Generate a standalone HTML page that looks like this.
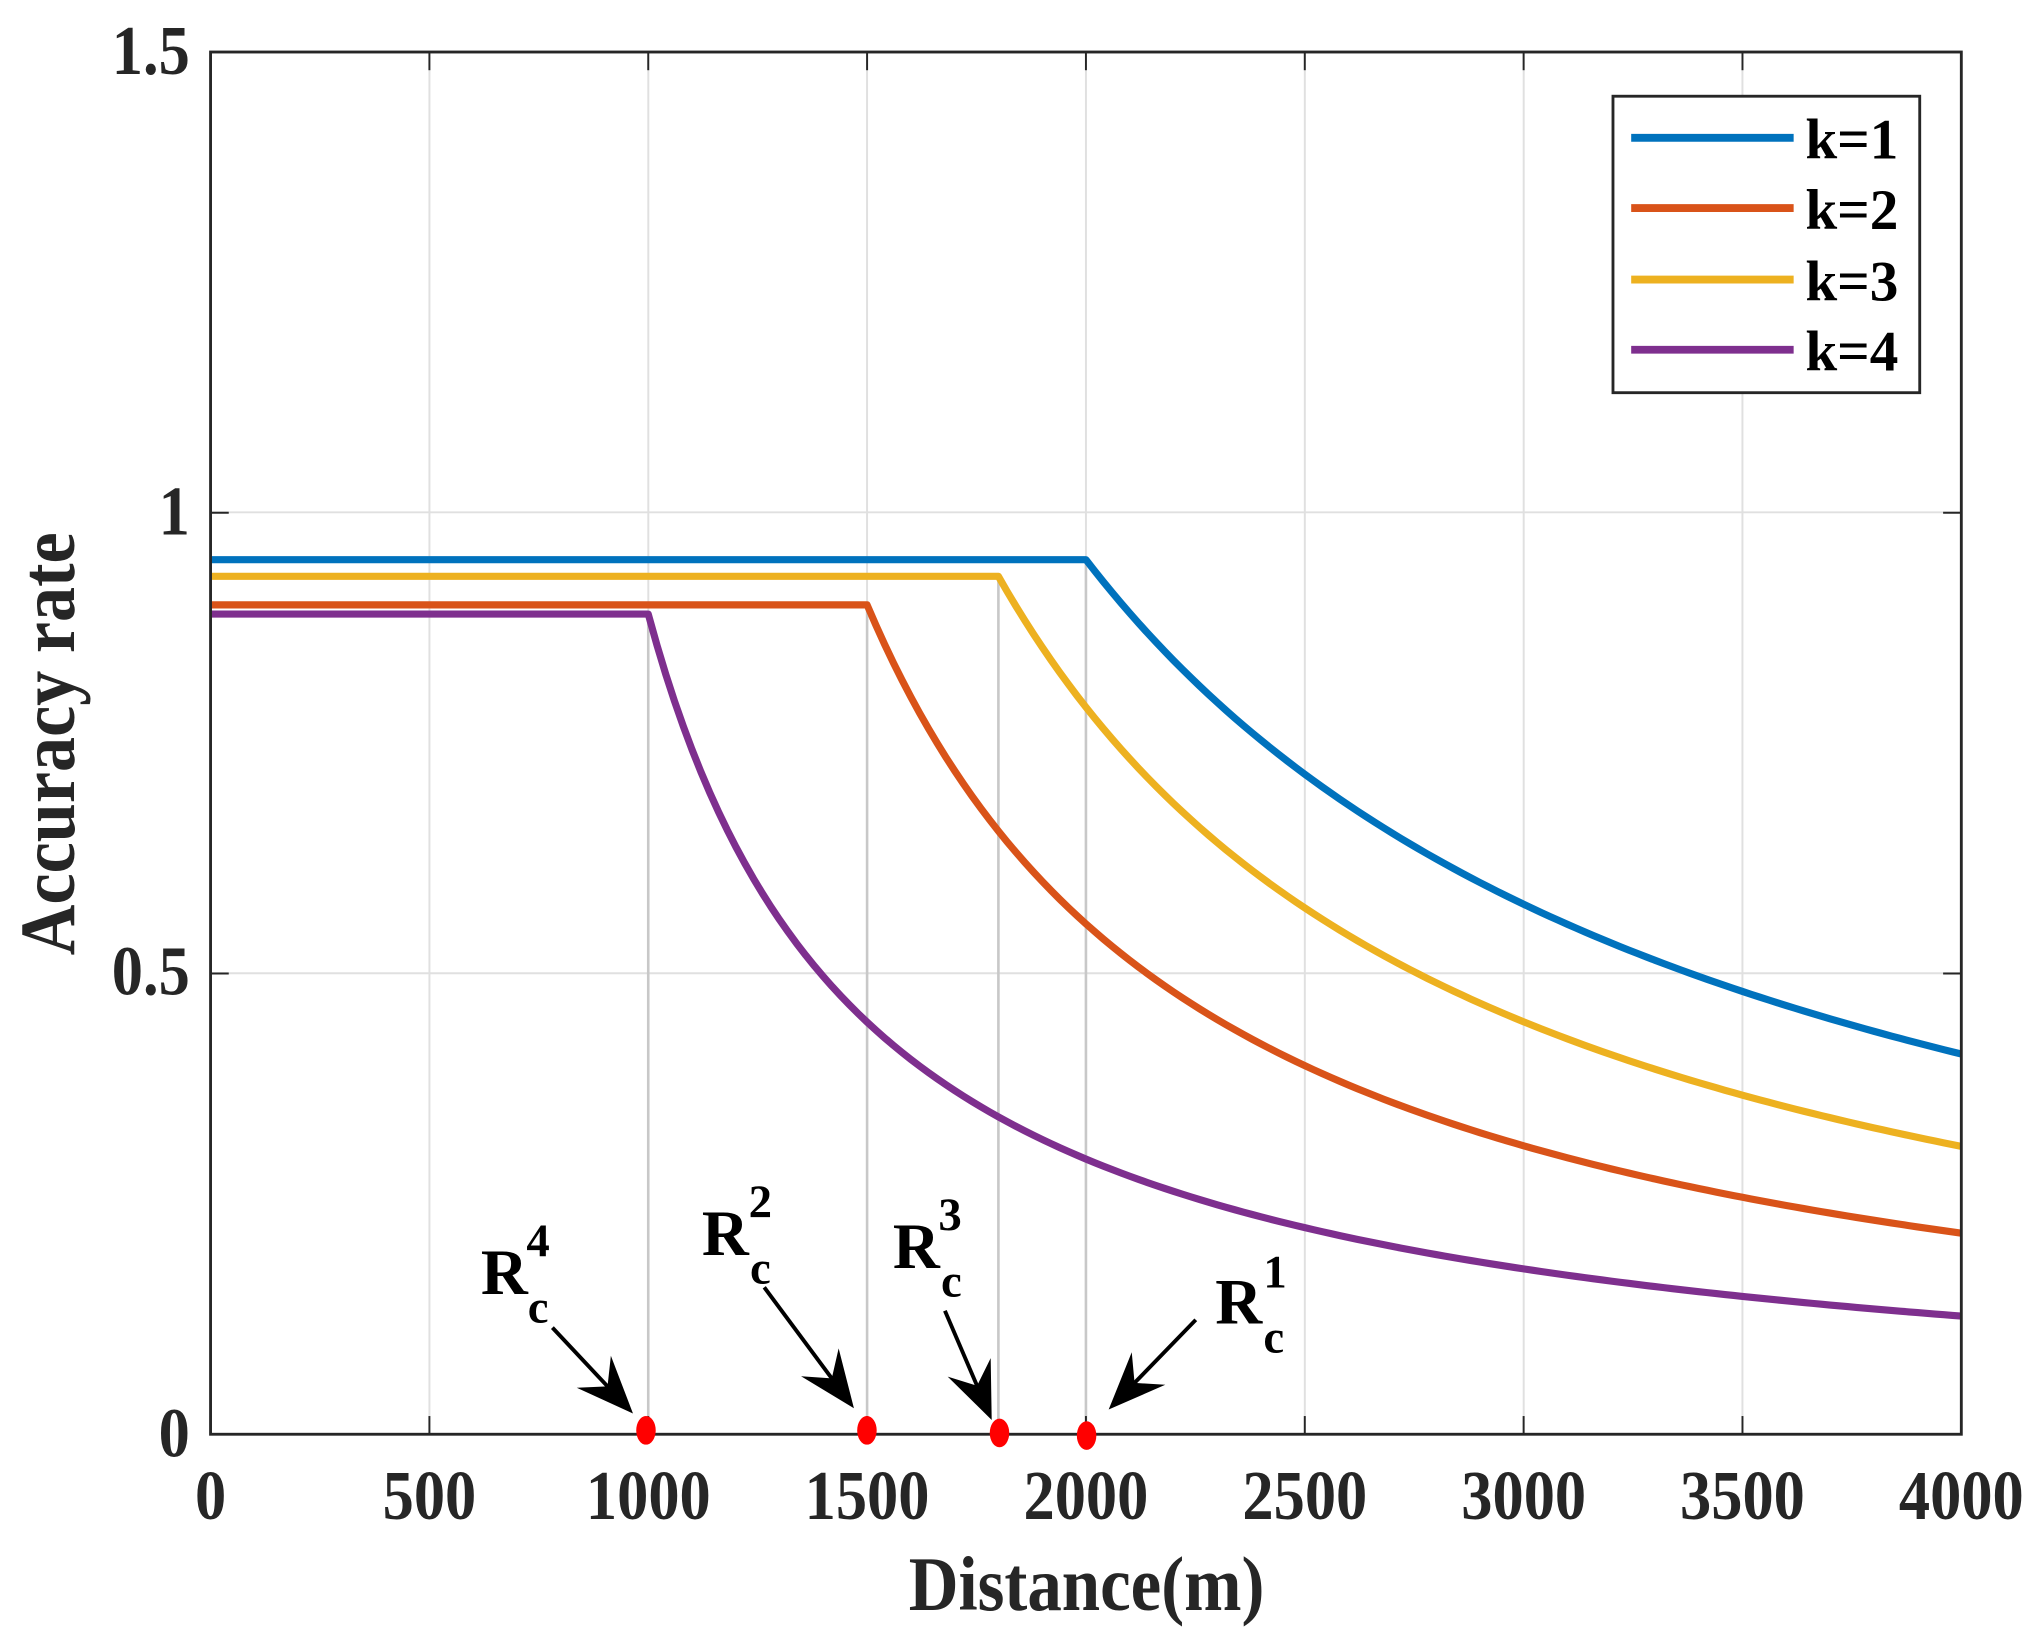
<!DOCTYPE html>
<html><head><meta charset="utf-8"><style>
html,body{margin:0;padding:0;background:#fff;}
svg{display:block;}
text{font-family:"Liberation Serif",serif;font-weight:bold;fill:#262626;}
</style></head><body>
<svg id="s" width="2038" height="1641" viewBox="0 0 1568 1262" preserveAspectRatio="none" xmlns="http://www.w3.org/2000/svg">
<rect x="0" y="0" width="1568" height="1262" fill="#fff"/>
<g stroke="#e0e0e0" stroke-width="1.5">
<line x1="330.4" y1="40" x2="330.4" y2="1103"/>
<line x1="498.8" y1="40" x2="498.8" y2="1103"/>
<line x1="667.1" y1="40" x2="667.1" y2="1103"/>
<line x1="835.5" y1="40" x2="835.5" y2="1103"/>
<line x1="1003.9" y1="40" x2="1003.9" y2="1103"/>
<line x1="1172.3" y1="40" x2="1172.3" y2="1103"/>
<line x1="1340.6" y1="40" x2="1340.6" y2="1103"/>
<line x1="162" y1="748.5" x2="1509" y2="748.5"/>
<line x1="162" y1="394" x2="1509" y2="394"/>
</g>
<g id="vl" stroke="#c8c8c8" stroke-width="2"></g>
<g id="cv" fill="none" stroke-width="5.5" stroke-linejoin="round"></g>
<g stroke="#262626" stroke-width="2.2" fill="none">
<rect x="162" y="40" width="1347" height="1063"/>
</g>
<g stroke="#262626" stroke-width="1.5" id="ticks"></g>
<g font-size="48" text-anchor="middle">
<text transform="translate(162,1168) scale(1,1.12)">0</text>
<text transform="translate(330.4,1168) scale(1,1.12)">500</text>
<text transform="translate(498.8,1168) scale(1,1.12)">1000</text>
<text transform="translate(667.1,1168) scale(1,1.12)">1500</text>
<text transform="translate(835.5,1168) scale(1,1.12)">2000</text>
<text transform="translate(1003.9,1168) scale(1,1.12)">2500</text>
<text transform="translate(1172.3,1168) scale(1,1.12)">3000</text>
<text transform="translate(1340.6,1168) scale(1,1.12)">3500</text>
<text transform="translate(1509,1168) scale(1,1.12)">4000</text>
</g>
<g font-size="48" text-anchor="end">
<text transform="translate(146,1120) scale(1,1.12)">0</text>
<text transform="translate(146,765) scale(1,1.12)">0.5</text>
<text transform="translate(146,411) scale(1,1.12)">1</text>
<text transform="translate(146,57) scale(1,1.12)">1.5</text>
</g>
<text font-size="53" text-anchor="middle" transform="translate(836,1238) scale(1,1.12)">Distance(m)</text>
<text font-size="54" text-anchor="middle" transform="translate(57,572) rotate(-90) scale(1,1.12)">Accuracy rate</text>
<rect x="1241" y="74" width="236" height="228" fill="#fff" stroke="#262626" stroke-width="2.2"/>
<g stroke-width="6">
<line x1="1255" y1="106" x2="1380" y2="106" stroke="#0072BD"/>
<line x1="1255" y1="160" x2="1380" y2="160" stroke="#D95319"/>
<line x1="1255" y1="215" x2="1380" y2="215" stroke="#EDB120"/>
<line x1="1255" y1="269" x2="1380" y2="269" stroke="#7E2F8E"/>
</g>
<g font-size="44">
<text x="1389" y="122" style="fill:#000">k=1</text>
<text x="1389" y="176" style="fill:#000">k=2</text>
<text x="1389" y="231" style="fill:#000">k=3</text>
<text x="1389" y="285" style="fill:#000">k=4</text>
</g>
<g>
<text x="370" y="995" font-size="50" style="fill:#000">R</text>
<text x="405" y="966" font-size="36" style="fill:#000">4</text>
<text x="406" y="1017" font-size="36" style="fill:#000">c</text>
<text x="540" y="965" font-size="50" style="fill:#000">R</text>
<text x="576" y="936" font-size="36" style="fill:#000">2</text>
<text x="577" y="987" font-size="36" style="fill:#000">c</text>
<text x="687" y="975" font-size="50" style="fill:#000">R</text>
<text x="722" y="946" font-size="36" style="fill:#000">3</text>
<text x="724" y="997" font-size="36" style="fill:#000">c</text>
<text x="935" y="1018" font-size="50" style="fill:#000">R</text>
<text x="972" y="990" font-size="36" style="fill:#000">1</text>
<text x="972" y="1040" font-size="36" style="fill:#000">c</text>
</g>
<g stroke="#000" stroke-width="3" id="arrows"></g>
<g fill="#f00">
<ellipse cx="497" cy="1100" rx="7.5" ry="11"/>
<ellipse cx="667" cy="1100" rx="7.5" ry="11"/>
<ellipse cx="769" cy="1102" rx="7.5" ry="11"/>
<ellipse cx="836" cy="1104" rx="7.5" ry="11"/>
</g>
<script>
(function(){
var NS="http://www.w3.org/2000/svg";
function X(d){return 162+d*1347/4000;}
function Y(v){return 1103-708.7*v;}
function el(p,tag,a){var e=document.createElementNS(NS,tag);for(var k in a)e.setAttribute(k,a[k]);document.getElementById(p).appendChild(e);return e;}
var C=[{R:2000,p:0.949,b:0.00065,c:"#0072BD"},{R:1500,p:0.9,b:0.00125,c:"#D95319"},{R:1800,p:0.931,b:0.0009,c:"#EDB120"},{R:1000,p:0.89,b:0.00198,c:"#7E2F8E"}];
var order=[3,1,2,0];
order.forEach(function(i){var c=C[i];
 el("vl","line",{x1:X(c.R),y1:Y(c.p),x2:X(c.R),y2:1103});
});
order.forEach(function(i){var c=C[i];var d="M"+X(0)+","+Y(c.p)+" L"+X(c.R)+","+Y(c.p);
 for(var x=c.R;x<=4000;x+=20){d+=" L"+X(x).toFixed(2)+","+Y(c.p/(1+c.b*(x-c.R))).toFixed(2);}
 el("cv","path",{d:d,stroke:c.c});
});
for(var i=0;i<=8;i++){var x=X(i*500);el("ticks","line",{x1:x,y1:1103,x2:x,y2:1089});el("ticks","line",{x1:x,y1:40,x2:x,y2:54});}
[0.5,1].forEach(function(v){el("ticks","line",{x1:162,y1:Y(v),x2:176,y2:Y(v)});el("ticks","line",{x1:1509,y1:Y(v),x2:1495,y2:Y(v)});});
function arrow(x1,y1,x2,y2){var dx=x2-x1,dy=y2-y1,L=Math.sqrt(dx*dx+dy*dy),ux=dx/L,uy=dy/L,h=44,w=18;
 var bx=x2-ux*h,by=y2-uy*h;
 el("arrows","line",{x1:x1,y1:y1,x2:x2-ux*h*0.6,y2:y2-uy*h*0.6});
 var p=x2+","+y2+" "+(bx-uy*w)+","+(by+ux*w)+" "+(x2-ux*h*0.65)+","+(y2-uy*h*0.65)+" "+(bx+uy*w)+","+(by-ux*w);
 el("arrows","polygon",{points:p,fill:"#000",stroke:"none"});}
arrow(425,1021,487,1087);
arrow(588,990,657,1083);
arrow(727,1008,763,1092);
arrow(920,1015,853,1084);
})();
</script>
</svg>
</body></html>
